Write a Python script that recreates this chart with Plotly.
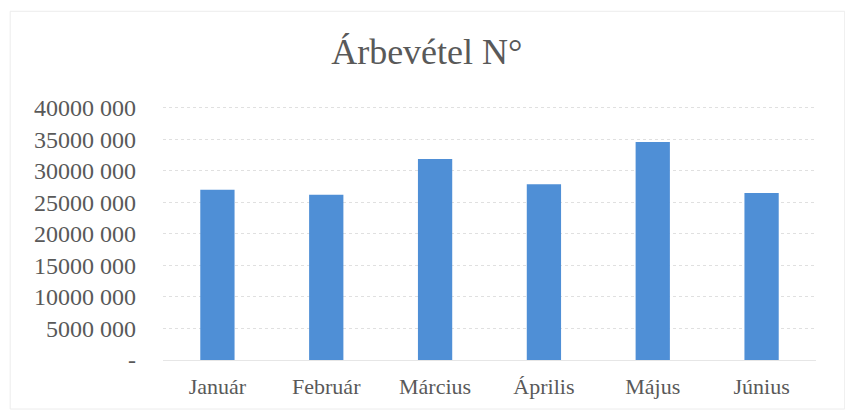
import plotly.graph_objects as go

months = ["Január", "Február", "Március", "Április", "Május", "Június"]
revenue = [27000000, 26200000, 31900000, 27900000, 34600000, 26500000]
y_ticks = [0, 5000000, 10000000, 15000000, 20000000, 25000000, 30000000, 35000000, 40000000]
y_labels = ["-", "5000 000", "10000 000", "15000 000", "20000 000",
            "25000 000", "30000 000", "35000 000", "40000 000"]

grey = "#595959"
font = "Liberation Serif, Times New Roman, serif"

fig = go.Figure()
fig.add_trace(go.Bar(x=months, y=revenue, marker=dict(color="#4f8fd6", line_width=0)))

# the page body adds ~8px offset, margins are compensated for it
fig.update_layout(
    width=853, height=411,
    margin=dict(l=155, r=45, t=98, b=59),
    paper_bgcolor="white", plot_bgcolor="white",
    title=dict(text="Árbevétel N°", x=0.491, xanchor="center", y=0.895, yanchor="middle",
               font=dict(family=font, size=36, color=grey)),
    font=dict(family=font, size=22, color=grey),
    bargap=0.685,
    showlegend=False,
)
fig.update_xaxes(showgrid=False, showline=False, ticks="", ticklabelstandoff=11)
fig.update_yaxes(range=[0, 40300000], tickvals=y_ticks, ticktext=y_labels,
                 tickfont=dict(size=24),
                 showgrid=True, gridcolor="#e0e0e0", gridwidth=1, griddash="dot",
                 zeroline=True, zerolinecolor="#e6e6e6", zerolinewidth=1,
                 ticklabelstandoff=26)
fig.add_shape(type="rect", xref="paper", yref="paper", x0=-0.234, x1=1.044, y0=-0.193, y1=1.373,
              line=dict(color="#ececec", width=1))

fig.write_html("out.html")
